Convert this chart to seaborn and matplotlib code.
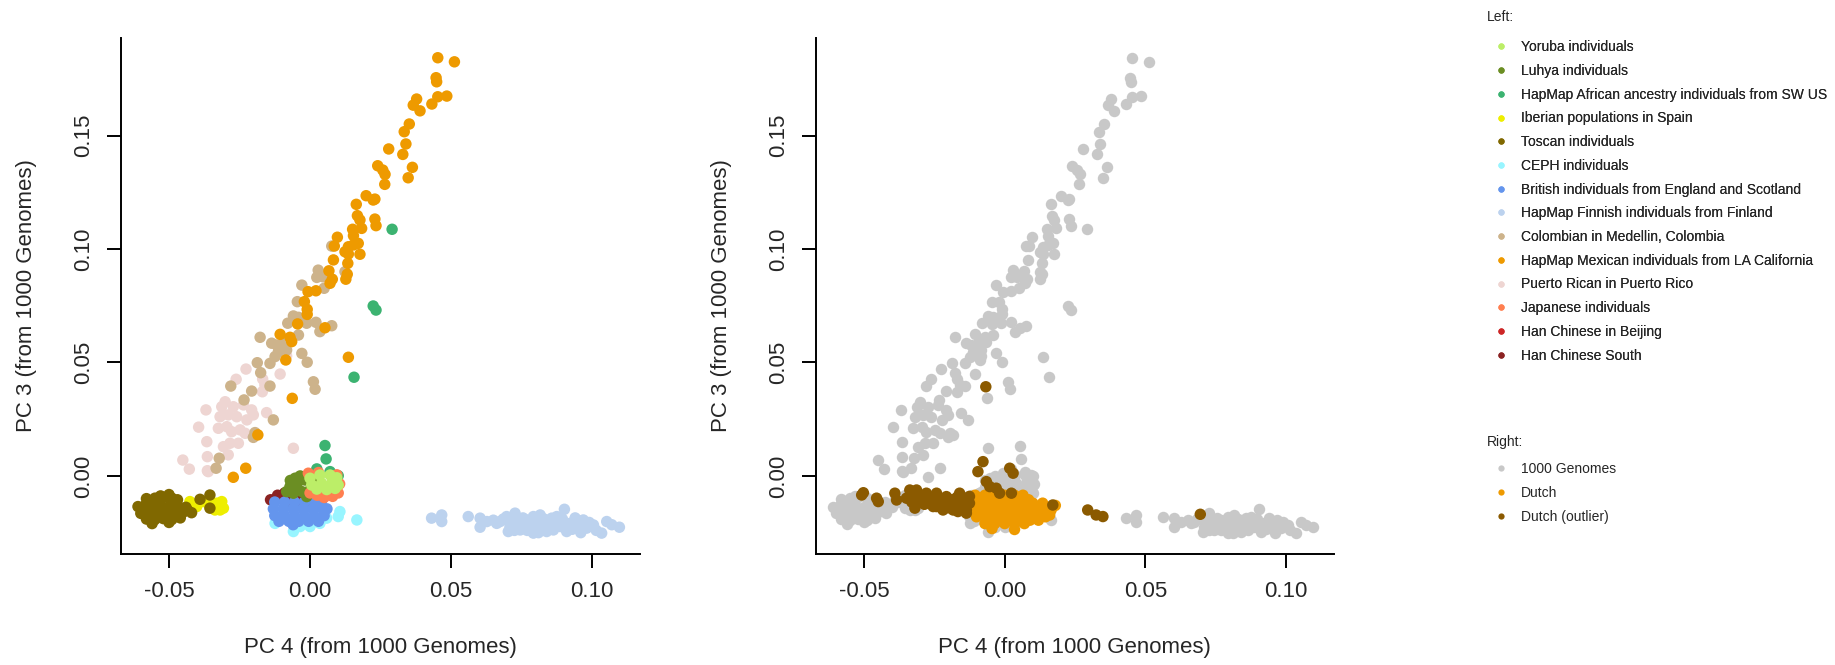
import matplotlib
matplotlib.use("Agg")
import matplotlib.pyplot as plt
from matplotlib.lines import Line2D
import seaborn as sns
import pandas as pd

# PC 4 / PC 3 coordinates, one list per population
yoruba = [(0.0000, -0.0010), (0.0035, 0.0004), (0.0071, 0.0004), (0.0095, -0.0008),
          (0.0006, -0.0040), (0.0041, -0.0032), (0.0077, -0.0032), (0.0100, -0.0040),
          (0.0024, -0.0058), (0.0059, -0.0060), (0.0089, -0.0055)]
luhya = [(-0.0053, -0.0010), (-0.0035, 0.0000), (-0.0071, -0.0047), (-0.0047, -0.0040),
         (-0.0018, -0.0018), (-0.0059, -0.0076), (-0.0029, -0.0069), (0.0000, -0.0062),
         (-0.0012, -0.0091), (-0.0083, -0.0069), (-0.0070, -0.0020), (0.0010, -0.0030)]
asw = [(0.0291, 0.1087), (0.0224, 0.0749), (0.0234, 0.0731), (0.0156, 0.0435),
       (0.0053, 0.0134), (0.0057, 0.0075), (0.0024, 0.0031), (0.0071, 0.0019),
       (0.0100, 0.0001)]
iberian = [(-0.0426, -0.0113), (-0.0420, -0.0150), (-0.0402, -0.0135), (-0.0378, -0.0113),
           (-0.0361, -0.0120), (-0.0331, -0.0120), (-0.0313, -0.0113), (-0.0307, -0.0142),
           (-0.0337, -0.0150), (-0.0319, -0.0150), (-0.0440, -0.0140)]
toscan = [(-0.058, -0.0100), (-0.055, -0.0098), (-0.052, -0.0095), (-0.049, -0.0098),
          (-0.047, -0.0105), (-0.050, -0.0082), (-0.053, -0.0088), (-0.061, -0.0135),
          (-0.0585, -0.0130), (-0.056, -0.0135), (-0.053, -0.0130), (-0.050, -0.0135),
          (-0.047, -0.0130), (-0.044, -0.0138), (-0.060, -0.0165), (-0.057, -0.0160),
          (-0.054, -0.0165), (-0.051, -0.0160), (-0.048, -0.0165), (-0.045, -0.0160),
          (-0.042, -0.0162), (-0.058, -0.0190), (-0.055, -0.0192), (-0.052, -0.0188),
          (-0.049, -0.0192), (-0.046, -0.0185), (-0.056, -0.0210), (-0.050, -0.0205),
          (-0.0355, -0.0084), (-0.0390, -0.0103), (-0.0355, -0.0142), (-0.0595, -0.0150),
          (-0.0545, -0.0115), (-0.0485, -0.0115), (-0.0435, -0.0150), (-0.0535, -0.0178)]
ceph = [(0.0106, -0.0157), (0.0100, -0.0179), (0.0166, -0.0194), (-0.0059, -0.0245),
        (-0.0124, -0.0209), (0.0059, -0.0186), (0.0000, -0.0223), (-0.0118, -0.0172),
        (-0.0035, -0.0223), (0.0035, -0.0209)]
british = [(-0.0125, -0.0115), (-0.0090, -0.0115), (-0.0055, -0.0115), (-0.0020, -0.0115),
           (0.0015, -0.0115), (0.0040, -0.0115), (-0.0130, -0.0145), (-0.0095, -0.0145),
           (-0.0060, -0.0145), (-0.0025, -0.0145), (0.0010, -0.0145), (0.0045, -0.0145),
           (0.0060, -0.0145), (-0.0125, -0.0175), (-0.0090, -0.0175), (-0.0055, -0.0175),
           (-0.0020, -0.0175), (0.0015, -0.0175), (0.0050, -0.0175), (-0.0110, -0.0200),
           (-0.0075, -0.0200), (-0.0040, -0.0200), (-0.0005, -0.0200), (0.0030, -0.0200),
           (-0.0060, -0.0215)]
finnish = [(0.0431, -0.0186), (0.0467, -0.0172), (0.0467, -0.0201), (0.0561, -0.0179),
           (0.0603, -0.0186), (0.0627, -0.0201), (0.0603, -0.0226), (0.0662, -0.0209),
           (0.0674, -0.0201), (0.0697, -0.0179), (0.0727, -0.0164), (0.0709, -0.0223),
           (0.0703, -0.0245), (0.0745, -0.0209), (0.0745, -0.0238), (0.0768, -0.0194),
           (0.0792, -0.0179), (0.0816, -0.0172), (0.0792, -0.0252), (0.0780, -0.0223),
           (0.0816, -0.0223), (0.0839, -0.0209), (0.0839, -0.0245), (0.0863, -0.0238),
           (0.0857, -0.0186), (0.0875, -0.0179), (0.0902, -0.0147), (0.0887, -0.0223),
           (0.0922, -0.0209), (0.0946, -0.0201), (0.0969, -0.0194), (0.0910, -0.0245),
           (0.0981, -0.0230), (0.1005, -0.0216), (0.1034, -0.0252), (0.1052, -0.0201),
           (0.1097, -0.0226), (0.0685, -0.0190), (0.0720, -0.0195), (0.0755, -0.0185),
           (0.0770, -0.0240), (0.0800, -0.0205), (0.0830, -0.0190), (0.0850, -0.0215),
           (0.0875, -0.0205), (0.0895, -0.0190), (0.0905, -0.0225), (0.0930, -0.0235),
           (0.0955, -0.0220), (0.0960, -0.0250), (0.0990, -0.0205), (0.1015, -0.0240),
           (0.1070, -0.0215), (0.0725, -0.0240), (0.0650, -0.0195), (0.0810, -0.0250),
           (0.0940, -0.0185)]
colombian = [(0.0077, 0.1013), (0.0029, 0.0907), (0.0045, 0.0878), (0.0024, 0.0875),
             (0.0050, 0.0827), (0.0124, 0.0900), (-0.0029, 0.0841), (-0.0045, 0.0768),
             (-0.0059, 0.0705), (-0.0041, 0.0699), (-0.0079, 0.0673), (-0.0012, 0.0673),
             (0.0021, 0.0677), (0.0077, 0.0662), (0.0035, 0.0636), (-0.0177, 0.0611),
             (-0.0136, 0.0585), (-0.0118, 0.0577), (-0.0095, 0.0587), (-0.0041, 0.0621),
             (-0.0112, 0.0548), (-0.0083, 0.0555), (-0.0124, 0.0526), (-0.0142, 0.0496),
             (-0.0029, 0.0540), (-0.0010, 0.0501), (-0.0187, 0.0499), (-0.0175, 0.0455),
             (-0.0281, 0.0396), (-0.0207, 0.0374), (-0.0142, 0.0396), (0.0012, 0.0415),
             (0.0018, 0.0382), (-0.0234, 0.0335), (-0.0130, 0.0247), (-0.0195, 0.0191),
             (-0.0201, 0.0170), (-0.0322, 0.0078), (-0.0333, 0.0034)]
mexican = [(0.0453, 0.1843), (0.0512, 0.1825), (0.0447, 0.1755), (0.0449, 0.1737),
           (0.0453, 0.1671), (0.0485, 0.1674), (0.0378, 0.1661), (0.0366, 0.1634),
           (0.0390, 0.1609), (0.0432, 0.1639), (0.0352, 0.1551), (0.0334, 0.1517),
           (0.0340, 0.1463), (0.0279, 0.1441), (0.0329, 0.1417), (0.0363, 0.1360),
           (0.0348, 0.1314), (0.0240, 0.1367), (0.0258, 0.1348), (0.0266, 0.1329),
           (0.0265, 0.1285), (0.0199, 0.1235), (0.0224, 0.1216), (0.0230, 0.1220),
           (0.0164, 0.1197), (0.0168, 0.1147), (0.0177, 0.1128), (0.0230, 0.1132),
           (0.0234, 0.1103), (0.0151, 0.1087), (0.0183, 0.1091), (0.0154, 0.1059),
           (0.0097, 0.1052), (0.0086, 0.1013), (0.0136, 0.1010), (0.0154, 0.1018),
           (0.0171, 0.1025), (0.0124, 0.0988), (0.0136, 0.0978), (0.0177, 0.0977),
           (0.0083, 0.0952), (0.0134, 0.0937), (0.0067, 0.0904), (0.0079, 0.0867),
           (0.0071, 0.0849), (0.0132, 0.0889), (0.0127, 0.0867), (-0.0007, 0.0812),
           (0.0021, 0.0816), (-0.0020, 0.0768), (-0.0010, 0.0734), (-0.0010, 0.0712),
           (-0.0044, 0.0670), (0.0053, 0.0653), (-0.0106, 0.0624), (-0.0071, 0.0611),
           (-0.0065, 0.0592), (-0.0086, 0.0511), (0.0136, 0.0523), (-0.0063, 0.0342),
           (-0.0185, 0.0181), (-0.0228, 0.0034), (-0.0272, -0.0006)]
puerto_rican = [(-0.0227, 0.0471), (-0.0262, 0.0426), (-0.0168, 0.0427), (-0.0160, 0.0401),
                (-0.0169, 0.0371), (-0.0106, 0.0449), (-0.0083, 0.0529), (-0.0369, 0.0291),
                (-0.0301, 0.0327), (-0.0272, 0.0305), (-0.0236, 0.0313), (-0.0207, 0.0291),
                (-0.0201, 0.0269), (-0.0154, 0.0279), (-0.0319, 0.0261), (-0.0290, 0.0269),
                (-0.0260, 0.0261), (-0.0224, 0.0247), (-0.0325, 0.0210), (-0.0295, 0.0217),
                (-0.0278, 0.0195), (-0.0248, 0.0203), (-0.0230, 0.0188), (-0.0395, 0.0215),
                (-0.0366, 0.0151), (-0.0307, 0.0129), (-0.0284, 0.0144), (-0.0254, 0.0144),
                (-0.0290, 0.0093), (-0.0364, 0.0085), (-0.0451, 0.0070), (-0.0428, 0.0030),
                (-0.0364, 0.0023), (-0.0059, 0.0122), (-0.0313, 0.0305), (-0.0361, 0.0019)]
japanese = [(-0.0006, 0.0012), (0.0030, 0.0015), (0.0095, 0.0005), (0.0105, -0.0035),
            (0.0100, -0.0075), (0.0080, -0.0090), (0.0050, -0.0095), (0.0025, -0.0085),
            (0.0000, -0.0075), (0.0060, -0.0060)]
han_beijing = [(-0.0080, -0.0120), (-0.0040, -0.0130), (0.0000, -0.0120)]
han_south = [(-0.0140, -0.0105), (-0.0115, -0.0085), (-0.0090, -0.0075), (-0.0070, -0.0090),
             (-0.0045, -0.0100), (-0.0025, -0.0105), (-0.0120, -0.0100)]

dutch = [(-0.0105, -0.0085), (-0.0070, -0.0085), (-0.0035, -0.0085), (0.0000, -0.0085),
         (0.0035, -0.0085), (0.0065, -0.0085), (-0.0110, -0.0120), (-0.0075, -0.0120),
         (-0.0040, -0.0120), (-0.0005, -0.0120), (0.0030, -0.0120), (0.0065, -0.0120),
         (0.0100, -0.0120), (0.0135, -0.0120), (-0.0110, -0.0150), (-0.0075, -0.0150),
         (-0.0040, -0.0150), (-0.0005, -0.0150), (0.0030, -0.0150), (0.0065, -0.0150),
         (0.0100, -0.0150), (0.0135, -0.0150), (0.0165, -0.0150), (-0.0100, -0.0180),
         (-0.0065, -0.0180), (-0.0030, -0.0180), (0.0005, -0.0180), (0.0040, -0.0180),
         (0.0075, -0.0180), (0.0110, -0.0180), (0.0145, -0.0180), (-0.0070, -0.0210),
         (-0.0035, -0.0210), (0.0000, -0.0210), (0.0035, -0.0210), (0.0070, -0.0210),
         (-0.0045, -0.0232), (0.0035, -0.0236), (0.0180, -0.0130), (0.0160, -0.0172),
         (-0.0090, -0.0100), (-0.0055, -0.0102), (-0.0020, -0.0100), (0.0015, -0.0100),
         (0.0050, -0.0102), (0.0085, -0.0105), (-0.0090, -0.0135), (-0.0055, -0.0135),
         (-0.0020, -0.0135), (0.0015, -0.0135), (0.0050, -0.0135), (0.0085, -0.0135),
         (0.0120, -0.0135), (-0.0085, -0.0165), (-0.0050, -0.0165), (-0.0015, -0.0165),
         (0.0020, -0.0165), (0.0055, -0.0165), (0.0090, -0.0165), (0.0125, -0.0165),
         (-0.0050, -0.0195), (-0.0015, -0.0195), (0.0020, -0.0195), (0.0055, -0.0195),
         (0.0090, -0.0195), (0.0120, -0.0195)]
dutch_outlier = [(-0.0502, -0.0074), (-0.0508, -0.0084), (-0.0455, -0.0098), (-0.0449, -0.0113),
                 (-0.0390, -0.0076), (-0.0384, -0.0106), (-0.0337, -0.0062), (-0.0313, -0.0062),
                 (-0.0349, -0.0098), (-0.0326, -0.0091), (-0.0301, -0.0106), (-0.0319, -0.0142),
                 (-0.0278, -0.0076), (-0.0242, -0.0076), (-0.0272, -0.0113), (-0.0254, -0.0135),
                 (-0.0230, -0.0120), (-0.0207, -0.0091), (-0.0195, -0.0120), (-0.0183, -0.0150),
                 (-0.0160, -0.0076), (-0.0148, -0.0113), (-0.0136, -0.0150), (-0.0166, -0.0157),
                 (-0.0219, -0.0150), (-0.0242, -0.0135), (-0.0136, -0.0164), (-0.0290, -0.0090),
                 (-0.0170, -0.0095), (-0.0125, -0.0120), (-0.0125, -0.0090), (-0.0200, -0.0140),
                 (-0.0330, -0.0115), (-0.0285, -0.0125), (-0.0260, -0.0095), (-0.0225, -0.0105),
                 (-0.0190, -0.0105), (-0.0175, -0.0130), (-0.0155, -0.0140), (-0.0140, -0.0100),
                 (-0.0210, -0.0125), (-0.0155, -0.0090),
                 (-0.0077, 0.0063), (-0.0095, 0.0019), (-0.0065, -0.0025), (-0.0053, -0.0047),
                 (-0.0030, -0.0054), (-0.0018, -0.0076), (0.0018, 0.0034), (0.0030, 0.0012),
                 (0.0024, -0.0076), (0.0171, -0.0128), (0.0295, -0.0150), (0.0325, -0.0172),
                 (0.0349, -0.0179), (0.0695, -0.0169), (-0.0067, 0.0393)]

# legend order and colours
left_labels = ["Yoruba individuals", "Luhya individuals",
               "HapMap African ancestry individuals from SW US", "Iberian populations in Spain",
               "Toscan individuals", "CEPH individuals",
               "British individuals from England and Scotland",
               "HapMap Finnish individuals from Finland", "Colombian in Medellin, Colombia",
               "HapMap Mexican individuals from LA California", "Puerto Rican in Puerto Rico",
               "Japanese individuals", "Han Chinese in Beijing", "Han Chinese South"]
left_groups = [yoruba, luhya, asw, iberian, toscan, ceph, british, finnish, colombian,
               mexican, puerto_rican, japanese, han_beijing, han_south]
left_colors = ["#BCEE68", "#6B8E23", "#3CB371", "#EEEE00", "#806800", "#98F5FF", "#6495ED",
               "#BCD2EE", "#CDB38B", "#EE9A00", "#EED5D2", "#FF7F50", "#CD2626", "#8B2323"]
# order in which the groups get painted (later on top)
draw_order = ["Puerto Rican in Puerto Rico", "Colombian in Medellin, Colombia",
              "HapMap Mexican individuals from LA California", "Iberian populations in Spain",
              "Toscan individuals", "CEPH individuals", "Han Chinese in Beijing",
              "Han Chinese South", "British individuals from England and Scotland",
              "HapMap Finnish individuals from Finland", "Luhya individuals",
              "HapMap African ancestry individuals from SW US", "Japanese individuals",
              "Yoruba individuals"]

right_labels = ["1000 Genomes", "Dutch", "Dutch (outlier)"]
right_colors = ["#C8C8C8", "#EE9A00", "#8B5A00"]

x_ticks = [-0.05, 0.0, 0.05, 0.10]
x_ticklabels = ["-0.05", "0.00", "0.05", "0.10"]
y_ticks = [0.0, 0.05, 0.10, 0.15]
y_ticklabels = ["0.00", "0.05", "0.10", "0.15"]


def to_frame(groups, labels):
	rows = []
	for lab, pts in zip(labels, groups):
		for x, y in pts:
			rows.append({"pc4": x, "pc3": y, "group": lab})
	return pd.DataFrame(rows)


sns.set_style("white")
plt.rcParams["font.family"] = ["Liberation Sans", "DejaVu Sans"]
plt.rcParams["axes.unicode_minus"] = False

W, H = 1835, 665
fig = plt.figure(figsize=(W / 100, H / 100), dpi=100)

def px_axes(x0, x1, ytop, ybot):
	return fig.add_axes([x0 / W, 1 - ybot / H, (x1 - x0) / W, (ybot - ytop) / H])

ax1 = px_axes(120.5, 640, 38, 554)
ax2 = px_axes(815.5, 1334, 38, 554)

left_df = to_frame(left_groups, left_labels)
left_df["order"] = left_df["group"].map({g: i for i, g in enumerate(draw_order)})
left_df = left_df.sort_values("order", kind="stable")
palette = dict(zip(left_labels, left_colors))
dot = 68

sns.scatterplot(data=left_df, x="pc4", y="pc3", hue="group", palette=palette,
				s=dot, linewidth=0, legend=False, ax=ax1)

sns.scatterplot(data=left_df, x="pc4", y="pc3", color=right_colors[0],
				s=dot, linewidth=0, legend=False, ax=ax2)
dutch_df = to_frame([dutch, dutch_outlier], right_labels[1:])
sns.scatterplot(data=dutch_df, x="pc4", y="pc3", hue="group",
				palette=dict(zip(right_labels[1:], right_colors[1:])),
				s=dot, linewidth=0, legend=False, ax=ax2)

for ax in (ax1, ax2):
	ax.set_xlim(-0.0672, 0.117)
	ax.set_ylim(-0.0344, 0.193)
	ax.set_xticks(x_ticks, x_ticklabels)
	ax.set_yticks(y_ticks, y_ticklabels)
	for side in ("top", "right"):
		ax.spines[side].set_visible(False)
	for side in ("left", "bottom"):
		ax.spines[side].set_linewidth(1.4)
		ax.spines[side].set_color("black")
	ax.tick_params(axis="both", length=10, width=1.4, color="black", labelsize=16,
				   left=True, bottom=True)
	ax.tick_params(axis="x", pad=9.5)
	ax.tick_params(axis="y", pad=9, labelrotation=90)
	for lab in ax.get_yticklabels():
		lab.set_va("center")
	ax.set_xlabel("PC 4 (from 1000 Genomes)", fontsize=16, labelpad=25)
	ax.set_ylabel("PC 3 (from 1000 Genomes)", fontsize=16, labelpad=26)
	ax.set_facecolor("white")

# legends: title drawn as its own text, entries below it
leg_fs = 10
leg_x = 1487

def make_legend(labels, colors, title, title_px, first_px):
	fig.text(leg_x / W, 1 - title_px / H, title, fontsize=leg_fs, va="center", ha="left")
	handles = [Line2D([], [], marker="o", ls="", color=c, markersize=4.5, markeredgewidth=0)
			   for c in colors]
	leg = fig.legend(handles, labels, loc="upper left",
					 bbox_to_anchor=((leg_x + 1) / W, 1 - (first_px - 6.8) / H),
					 frameon=False, fontsize=leg_fs, handlelength=1.87, handletextpad=0.5,
					 labelspacing=0.7, borderpad=0, borderaxespad=0)
	return leg

leg1 = make_legend(left_labels, left_colors, "Left:", 17, 47)
fig.add_artist(leg1)
make_legend(right_labels, right_colors, "Right:", 442, 469)

fig.savefig("out.png", dpi=100, facecolor="white")
